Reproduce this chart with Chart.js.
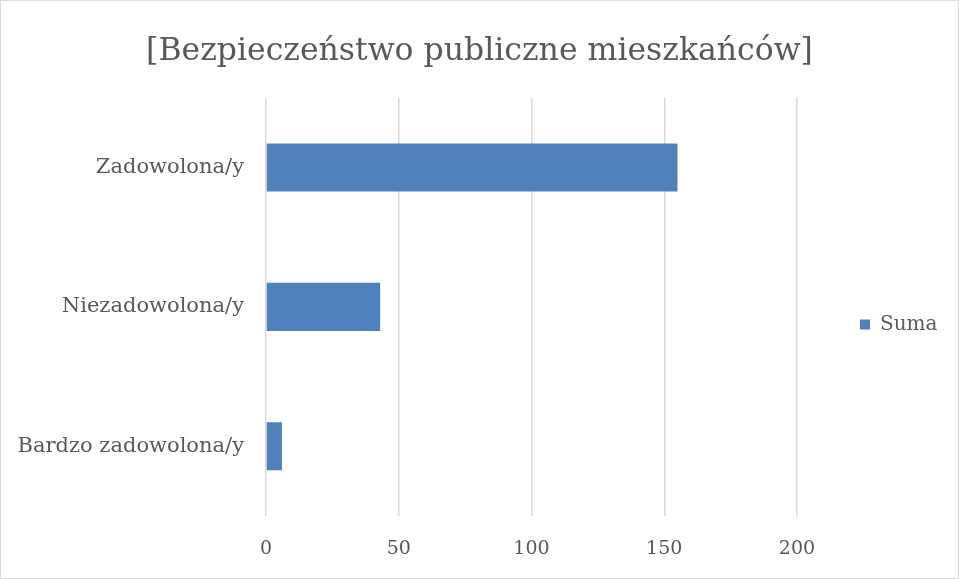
<!DOCTYPE html>
<html>
<head>
<meta charset="utf-8">
<script src="https://cdn.jsdelivr.net/npm/chart.js@4/dist/chart.umd.min.js"></script>
<style>
  html, body { margin: 0; padding: 0; background: #fff; }
  #wrap { width: 959px; height: 579px; position: relative; }
</style>
</head>
<body>
<div id="wrap"><canvas id="chart"></canvas></div>
<script>
const categories = ['Zadowolona/y', 'Niezadowolona/y', 'Bardzo zadowolona/y'];
const sumaValues = [155, 43, 6];
const xTicks = [0, 50, 100, 150, 200];

const textColor = '#595959';
const fontFamily = '"DejaVu Serif", serif';

// white background + thin grey frame round the whole chart
const frame = {
    id: 'frame',
    beforeDraw(chart) {
        const ctx = chart.ctx;
        ctx.save();
        ctx.fillStyle = '#fff';
        ctx.fillRect(0, 0, chart.width, chart.height);
        ctx.strokeStyle = '#d9d9d9';
        ctx.lineWidth = 1;
        ctx.strokeRect(0.5, 0.5, chart.width - 1, chart.height - 1);
        ctx.restore();
    }
};

// give the legend a fixed width so the plot ends at 200, and nudge the item
const legendBox = {
    id: 'legendBox',
    afterInit(chart) {
        const legend = chart.legend;
        if (!legend) return;
        const fit = legend.fit;
        legend.fit = function () {
            fit.call(this);
            if (!this.isHorizontal()) this.width = 162;
        };
        const draw = legend.draw;
        legend.draw = function () {
            const ctx = this.ctx;
            ctx.save();
            ctx.translate(53, 45);
            draw.call(this);
            ctx.restore();
        };
    }
};

new Chart(document.getElementById('chart'), {
    type: 'bar',
    data: {
        labels: categories,
        datasets: [{
            label: 'Suma',
            data: sumaValues,
            backgroundColor: '#4f81bd',
            borderWidth: 0,
            categoryPercentage: 1,
            barPercentage: 0.345
        }]
    },
    options: {
        indexAxis: 'y',
        responsive: true,
        maintainAspectRatio: false,
        animation: false,
        layout: { padding: { top: 0, right: 0, bottom: 20, left: 0 } },
        scales: {
            x: {
                min: 0,
                max: 200,
                afterBuildTicks(scale) {
                    scale.ticks = xTicks.map(v => ({ value: v }));
                },
                grid: { color: '#d9d9d9', lineWidth: 1.5, drawTicks: false },
                border: { display: false },
                ticks: { color: textColor, font: { family: fontFamily, size: 19 }, padding: 22 },
                afterFit(scale) { scale.height = 43; }
            },
            y: {
                grid: { display: false },
                border: { display: false },
                ticks: { color: textColor, font: { family: fontFamily, size: 21 }, padding: 14 },
                afterFit(scale) { scale.width = 266; }
            }
        },
        plugins: {
            title: {
                display: true,
                text: '[Bezpieczeństwo publiczne mieszkańców]',
                color: textColor,
                font: { family: fontFamily, size: 31.5, weight: 'normal' },
                padding: { top: 33, bottom: 27 }
            },
            legend: {
                position: 'right',
                labels: {
                    color: textColor,
                    font: { family: fontFamily, size: 20 },
                    boxWidth: 10,
                    boxHeight: 10,
                    padding: 10
                }
            },
            tooltip: { enabled: false }
        }
    },
    plugins: [frame, legendBox]
});
</script>
</body>
</html>
